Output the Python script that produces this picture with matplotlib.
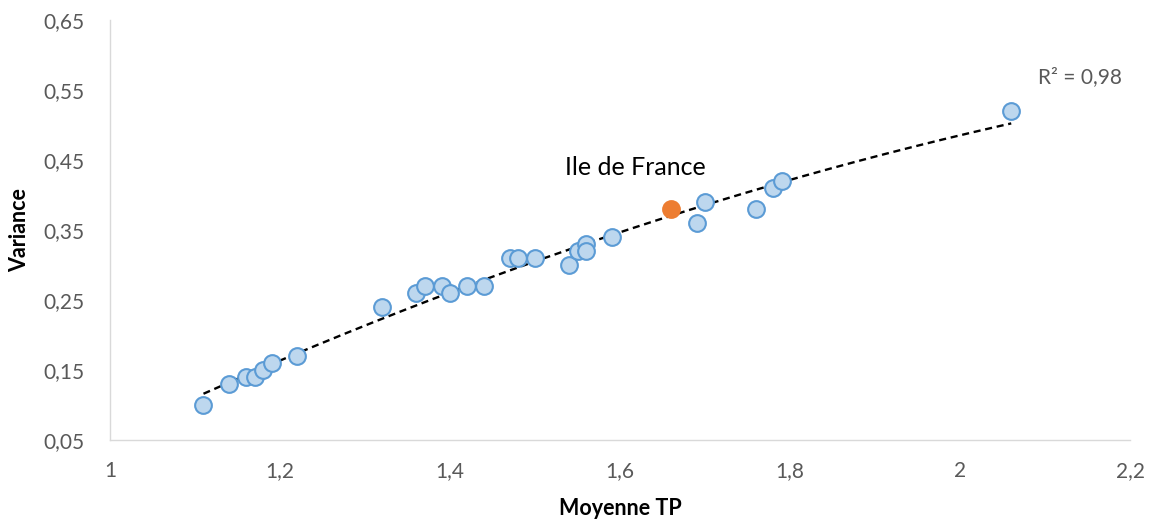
import numpy as np
import matplotlib.pyplot as plt
from matplotlib.ticker import FuncFormatter

# Régions (Moyenne TP, Variance)
moyenne_tp = [1.11, 1.14, 1.16, 1.17, 1.18, 1.19, 1.22, 1.32, 1.36, 1.37,
              1.39, 1.40, 1.42, 1.44, 1.47, 1.48, 1.50, 1.54, 1.55, 1.56,
              1.56, 1.59, 1.69, 1.70, 1.76, 1.78, 1.79, 2.06]
variance = [0.10, 0.13, 0.14, 0.14, 0.15, 0.16, 0.17, 0.24, 0.26, 0.27,
            0.27, 0.26, 0.27, 0.27, 0.31, 0.31, 0.31, 0.30, 0.32, 0.33,
            0.32, 0.34, 0.36, 0.39, 0.38, 0.41, 0.42, 0.52]
idf_x = [1.66]
idf_y = [0.38]
x_ticks = [1, 1.2, 1.4, 1.6, 1.8, 2, 2.2]
y_ticks = [0.05, 0.15, 0.25, 0.35, 0.45, 0.55, 0.65]

plt.rcParams['font.family'] = ['Lato', 'DejaVu Sans']

fig = plt.figure(figsize=(11.49, 5.27), dpi=100)
ax = fig.add_axes([0.0957, 0.165, 0.888, 0.797])

# courbe de tendance polynomiale (ordre 2)
all_x = np.array(moyenne_tp + idf_x)
all_y = np.array(variance + idf_y)
coef = np.polyfit(all_x, all_y, 2)
xs = np.linspace(all_x.min(), all_x.max(), 200)
ax.plot(xs, np.polyval(coef, xs), color="black", linestyle=(0, (3, 2)), linewidth=1.7, zorder=2)

ax.scatter(moyenne_tp, variance, s=145, facecolor="#BDD7EE", edgecolor="#5B9BD5",
           linewidth=1.5, zorder=3)
ax.scatter(idf_x, idf_y, s=145, facecolor="#ED7D31", edgecolor="#ED7D31",
           linewidth=1.5, zorder=4)

ax.text(1.618, 0.44, "Ile de France", fontsize=18, color="black", ha="center", va="center")
ax.text(2.141, 0.568, "R² = 0,98", fontsize=15, color="#595959", ha="center", va="center")

ax.set_xlim(1, 2.2)
ax.set_ylim(0.05, 0.65)
ax.set_xticks(x_ticks)
ax.set_yticks(y_ticks)
fmt = FuncFormatter(lambda v, p: f"{v:g}".replace(".", ","))
ax.xaxis.set_major_formatter(fmt)
ax.yaxis.set_major_formatter(fmt)
ax.tick_params(length=0, labelsize=15, colors="#595959")
ax.tick_params(axis="y", pad=18)
ax.tick_params(axis="x", pad=15)

for s in ["top", "right"]:
    ax.spines[s].set_visible(False)
for s in ["left", "bottom"]:
    ax.spines[s].set_color("#D9D9D9")
    ax.spines[s].set_linewidth(1.0)

ax.set_xlabel("Moyenne TP", fontsize=15.5, fontweight="bold", labelpad=12)
ax.set_ylabel("Variance", fontsize=15.5, fontweight="bold", labelpad=10)

fig.savefig("out.png", dpi=100)
